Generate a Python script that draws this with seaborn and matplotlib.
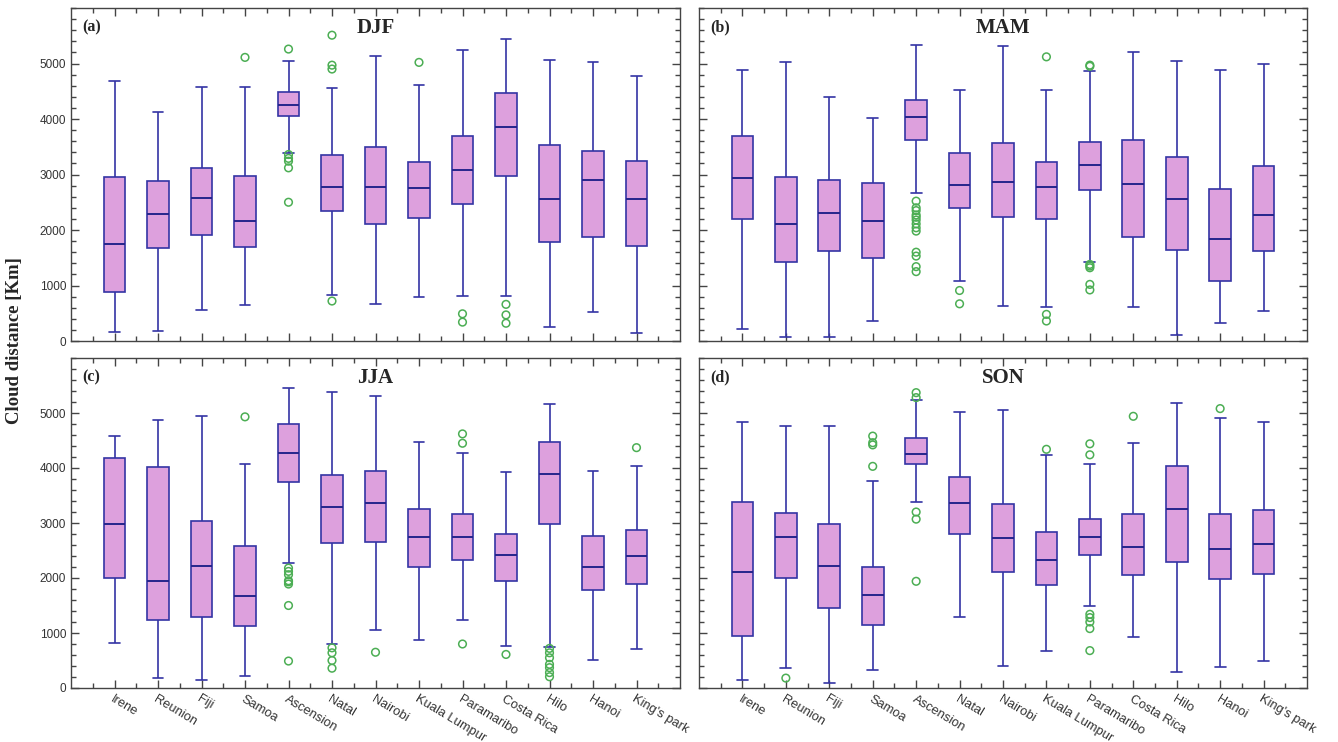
import numpy as np
import pandas as pd
import matplotlib
matplotlib.use('Agg')
import matplotlib.pyplot as plt
from matplotlib.ticker import MultipleLocator, FixedLocator
import seaborn as sns

# --- data: box statistics (km) ---
stations = ['Irene', 'Reunion', 'Fiji', 'Samoa', 'Ascension', 'Natal', 'Nairobi',
            'Kuala Lumpur', 'Paramaribo', 'Costa Rica', 'Hilo', 'Hanoi', "King's park"]

djf_low = [160, 180, 550, 640, 3390, 820, 660, 790, 810, 810, 250, 530, 150]
djf_q1 = [880, 1680, 1910, 1700, 4050, 2350, 2110, 2220, 2460, 2980, 1790, 1870, 1720]
djf_med = [1750, 2290, 2570, 2170, 4260, 2780, 2780, 2750, 3080, 3850, 2560, 2900, 2560]
djf_q3 = [2960, 2890, 3110, 2970, 4490, 3360, 3490, 3220, 3690, 4460, 3530, 3420, 3240]
djf_high = [4690, 4120, 4570, 4570, 5040, 4550, 5140, 4610, 5250, 5450, 5060, 5020, 4770]
djf_fliers = {'Samoa': [5110], 'Ascension': [5260, 3360, 3290, 3240, 3120, 2500],
              'Natal': [5510, 4970, 4900, 720], 'Kuala Lumpur': [5020],
              'Paramaribo': [490, 340], 'Costa Rica': [660, 470, 320]}

mam_low = [210, 80, 70, 360, 2660, 1080, 630, 620, 1430, 610, 110, 330, 540]
mam_q1 = [2190, 1430, 1630, 1490, 3620, 2390, 2240, 2190, 2720, 1880, 1640, 1080, 1630]
mam_med = [2930, 2110, 2300, 2160, 4030, 2810, 2860, 2770, 3180, 2820, 2550, 1830, 2270]
mam_q3 = [3700, 2950, 2900, 2840, 4350, 3390, 3560, 3230, 3580, 3630, 3310, 2740, 3160]
mam_high = [4880, 5030, 4400, 4020, 5340, 4520, 5310, 4520, 4870, 5210, 5040, 4890, 4990]
mam_fliers = {'Ascension': [2520, 2400, 2350, 2270, 2230, 2180, 2110, 2040, 1980,
                            1600, 1530, 1340, 1250],
              'Natal': [910, 670], 'Kuala Lumpur': [5120, 480, 360],
              'Paramaribo': [4970, 4950, 1380, 1350, 1320, 1020, 920]}

jja_low = [820, 180, 140, 210, 2270, 800, 1060, 880, 1240, 770, 750, 510, 710]
jja_q1 = [2000, 1240, 1300, 1120, 3750, 2640, 2650, 2200, 2320, 1940, 2990, 1790, 1900]
jja_med = [2990, 1950, 2220, 1680, 4270, 3290, 3370, 2750, 2740, 2420, 3890, 2200, 2400]
jja_q3 = [4190, 4020, 3040, 2590, 4800, 3870, 3950, 3260, 3170, 2800, 4480, 2770, 2880]
jja_high = [4590, 4880, 4940, 4070, 5460, 5390, 5310, 4480, 4280, 3920, 5170, 3950, 4040]
jja_fliers = {'Samoa': [4930], 'Ascension': [2180, 2120, 2060, 1950, 1930, 1890, 1500, 490],
              'Natal': [730, 640, 500, 360], 'Nairobi': [650],
              'Paramaribo': [4620, 4450, 800], 'Costa Rica': [610],
              'Hilo': [720, 640, 550, 430, 370, 280, 205], "King's park": [4370]}

son_low = [150, 370, 90, 330, 3380, 1290, 400, 680, 1500, 920, 290, 390, 500]
son_q1 = [940, 2000, 1460, 1150, 4080, 2800, 2110, 1880, 2410, 2050, 2300, 1990, 2070]
son_med = [2110, 2740, 2220, 1700, 4260, 3370, 2720, 2330, 2750, 2560, 3260, 2520, 2620]
son_q3 = [3380, 3190, 2990, 2200, 4550, 3830, 3350, 2830, 3080, 3160, 4030, 3160, 3240]
son_high = [4840, 4760, 4760, 3760, 5240, 5010, 5050, 4230, 4080, 4460, 5180, 4910, 4840]
son_fliers = {'Reunion': [180], 'Samoa': [4580, 4460, 4420, 4030],
              'Ascension': [5370, 5280, 3200, 3070, 1940], 'Kuala Lumpur': [4340],
              'Paramaribo': [4440, 4240, 1340, 1280, 1200, 1080, 680],
              'Costa Rica': [4940], 'Hanoi': [5080]}

FILL = '#DDA0DD'
EDGE = '#3434a4'
GREEN = '#4cae54'
SERIF = ['Liberation Serif', 'DejaVu Serif']


def box_frame(low, q1, med, q3, high):
    # five values per station -> seaborn recovers exactly these quartiles
    rows = []
    for name, vals in zip(stations, zip(low, q1, med, q3, high)):
        rows += [(name, v) for v in vals]
    return pd.DataFrame(rows, columns=['station', 'distance'])


def flier_frame(fliers):
    rows = [(k, v) for k, vs in fliers.items() for v in vs]
    return pd.DataFrame(rows, columns=['station', 'distance'])


def draw_panel(ax, box_df, out_df, tag, season, show_x, show_y):
    sns.boxplot(data=box_df, x='station', y='distance', order=stations,
                whis=(0, 100), width=0.5, color=FILL, saturation=1,
                linecolor=EDGE, linewidth=1.2, showfliers=False, ax=ax,
                medianprops=dict(color='#25258c', linewidth=1.4))
    sns.stripplot(data=out_df, x='station', y='distance', order=stations,
                  jitter=False, size=5.5, color=GREEN, ax=ax, zorder=3)
    for coll in ax.collections:
        coll.set_facecolor('none')
        coll.set_edgecolor(GREEN)
        coll.set_linewidth(1.1)

    ax.set_xlim(-1, 13)
    ax.set_ylim(0, 6000)
    ax.set_xlabel('')
    ax.set_ylabel('')
    ax.set_xticks(range(len(stations)))
    ax.xaxis.set_minor_locator(FixedLocator(np.arange(-0.5, 13, 1)))
    ax.yaxis.set_major_locator(FixedLocator(range(0, 5001, 1000)))
    ax.yaxis.set_minor_locator(MultipleLocator(200))
    ax.tick_params(which='both', direction='in', top=True, right=True,
                   color='#444444', width=1.0)
    ax.tick_params(which='major', length=6)
    ax.tick_params(which='minor', length=3.5)
    ax.tick_params(axis='y', labelsize=8.5, labelcolor='#333333', labelleft=show_y)
    if show_x:
        ax.set_xticklabels(stations, rotation=-31, ha='left', va='top',
                           rotation_mode='anchor', fontsize=9.3, color='#333333')
    else:
        ax.tick_params(axis='x', labelbottom=False)
    for sp in ax.spines.values():
        sp.set_linewidth(1.0)
        sp.set_color('#444444')

    ax.text(0.5, 0.94, season, transform=ax.transAxes, ha='center', va='center',
            fontsize=15, fontweight='bold', family=SERIF)
    ax.text(0.018, 0.942, tag, transform=ax.transAxes, ha='left', va='center',
            fontsize=11.5, fontweight='bold', family=SERIF)


sns.set_style('ticks')
plt.rcParams['font.family'] = ['Liberation Sans', 'DejaVu Sans']

W, H = 1338, 742
fig = plt.figure(figsize=(W / 100, H / 100), dpi=100)


def px_axes(left, right, top, bottom):
    return fig.add_axes([left / W, 1 - bottom / H, (right - left) / W, (bottom - top) / H])


ax_a = px_axes(71, 680, 8, 341)
ax_b = px_axes(699, 1307, 8, 341)
ax_c = px_axes(71, 680, 358, 688)
ax_d = px_axes(699, 1307, 358, 688)

draw_panel(ax_a, box_frame(djf_low, djf_q1, djf_med, djf_q3, djf_high),
           flier_frame(djf_fliers), '(a)', 'DJF', False, True)
draw_panel(ax_b, box_frame(mam_low, mam_q1, mam_med, mam_q3, mam_high),
           flier_frame(mam_fliers), '(b)', 'MAM', False, False)
draw_panel(ax_c, box_frame(jja_low, jja_q1, jja_med, jja_q3, jja_high),
           flier_frame(jja_fliers), '(c)', 'JJA', True, True)
draw_panel(ax_d, box_frame(son_low, son_q1, son_med, son_q3, son_high),
           flier_frame(son_fliers), '(d)', 'SON', True, False)

fig.text(15 / W, 1 - 341 / H, 'Cloud distance [Km]', rotation=90, ha='center',
         va='center', fontsize=13.5, fontweight='bold', family=SERIF)

fig.savefig('out.png', dpi=100)
